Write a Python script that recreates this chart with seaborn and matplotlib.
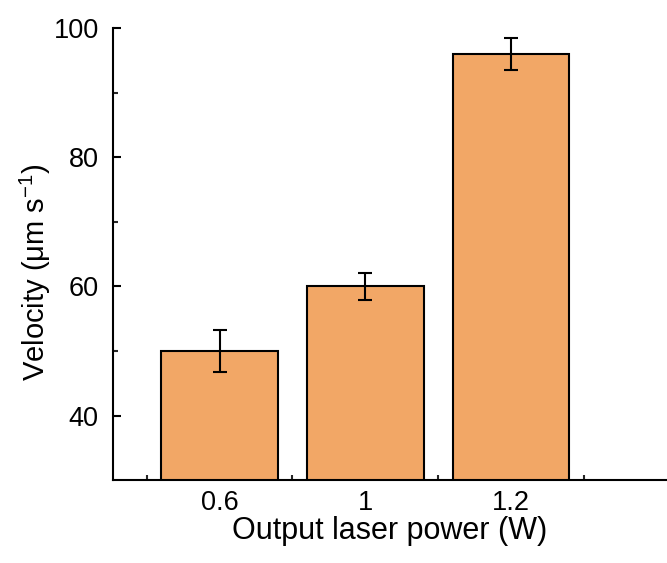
import matplotlib
matplotlib.use("Agg")
import matplotlib.pyplot as plt
import seaborn as sns
import pandas as pd
import numpy as np
from matplotlib.ticker import FixedLocator

power = ["0.6", "1", "1.2"]
velocity = [50.0, 60.0, 96.0]
error = [3.2, 2.1, 2.5]

sns.set_theme(style="ticks")
plt.rcParams['font.family'] = ['Liberation Sans', 'DejaVu Sans']
plt.rcParams['mathtext.fontset'] = 'custom'
plt.rcParams['mathtext.rm'] = 'Liberation Sans'
plt.rcParams['mathtext.it'] = 'Liberation Sans'
plt.rcParams['text.color'] = 'black'
plt.rcParams['axes.labelcolor'] = 'black'

df = pd.DataFrame({"power": power, "velocity": velocity})

fig = plt.figure(figsize=(6.67, 5.63), dpi=100)
ax = fig.add_axes([0.169, 0.147, 0.831, 0.803])

sns.barplot(data=df, x="power", y="velocity", color="#F2A766", saturation=1,
            width=0.8, edgecolor="black", linewidth=1.5, ax=ax, errorbar=None)
ax.errorbar(np.arange(len(power)), velocity, yerr=error, fmt="none",
            ecolor="black", elinewidth=1.5, capsize=5, capthick=1.5)

ax.set_ylim(30, 100)
ax.set_xlim(-0.733, 3.07)
ax.yaxis.set_major_locator(FixedLocator([40, 60, 80, 100]))
ax.yaxis.set_minor_locator(FixedLocator([50, 70, 90]))
ax.xaxis.set_minor_locator(FixedLocator([-0.5, 0.5, 1.5, 2.5]))

for s in ["top", "right"]:
    ax.spines[s].set_visible(False)
for s in ["left", "bottom"]:
    ax.spines[s].set_linewidth(1.5)
    ax.spines[s].set_color("black")

ax.tick_params(which="major", direction="in", length=6, width=1.5, labelsize=19.5, colors="black")
ax.tick_params(which="minor", direction="in", length=3.5, width=1.5)
ax.tick_params(axis="x", which="major", pad=7)
ax.tick_params(axis="y", which="major", pad=10)

ax.set_xlabel("Output laser power (W)", fontsize=22, labelpad=0)
ax.set_ylabel("Velocity (μm s$^{-1}$)", fontsize=21)
ax.yaxis.set_label_coords(-0.108, 0.46)

fig.savefig("out.png", dpi=100)
